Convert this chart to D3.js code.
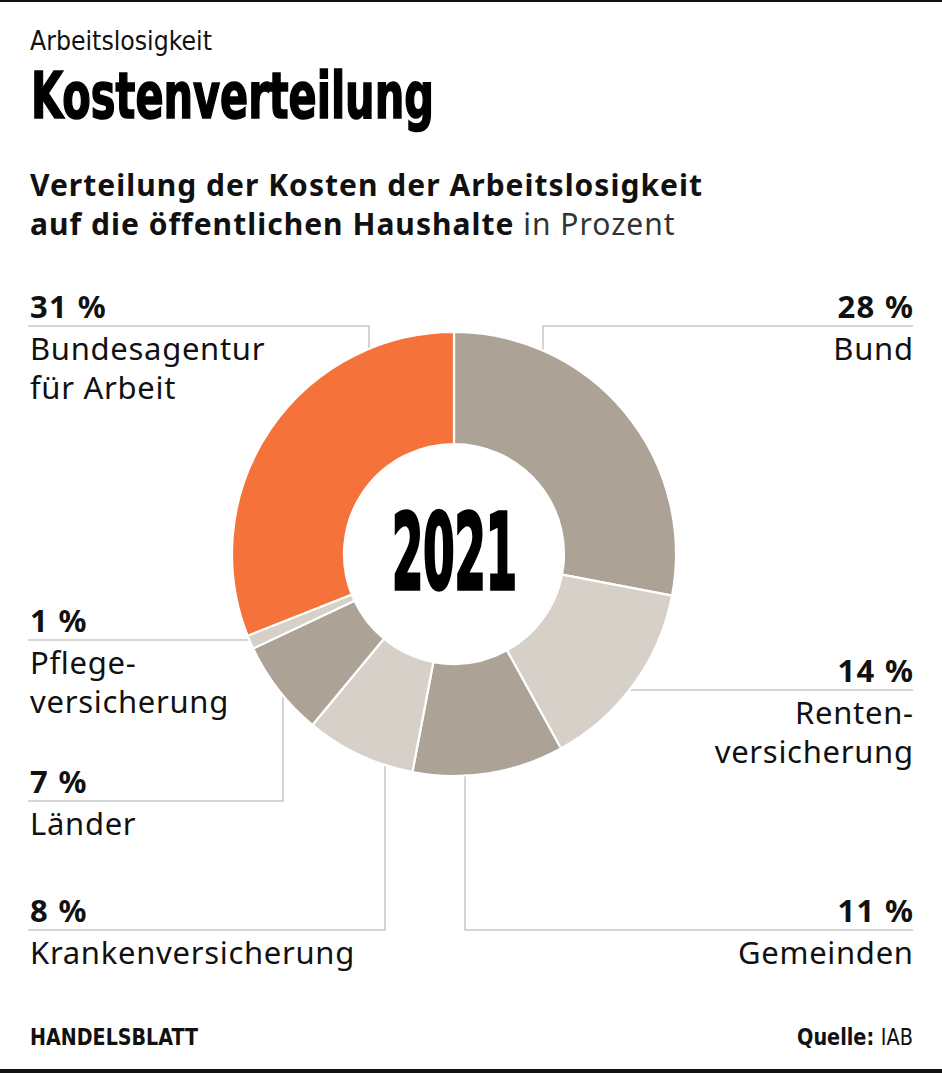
<!DOCTYPE html>
<html><head><meta charset="utf-8">
<script src="https://cdn.jsdelivr.net/npm/d3@7"></script>
<style>
html,body{margin:0;padding:0;background:#fff;}
svg{display:block;}
</style></head>
<body>
<svg id="c" width="942" height="1075"></svg>
<script>
// ---- data ----
const categories = ["Bund", "Rentenversicherung", "Gemeinden", "Krankenversicherung", "Länder", "Pflegeversicherung", "Bundesagentur für Arbeit"];
const values = [28, 14, 11, 8, 7, 1, 31];
const labelLines = [["Bund"], ["Renten-", "versicherung"], ["Gemeinden"], ["Krankenversicherung"], ["Länder"], ["Pflege-", "versicherung"], ["Bundesagentur", "für Arbeit"]];
const year = "2021";

// ---- layout (annotation placement) ----
const palette = ["#ada296", "#d6d0c9", "#ada296", "#d6d0c9", "#ada296", "#d6d0c9", "#f5733a"];
const leaders = [
  {side: "right", y: 326, x: 543},
  {side: "right", y: 690, x: null},
  {side: "right", y: 930, x: 465},
  {side: "left",  y: 930, x: 385},
  {side: "left",  y: 801, x: 283},
  {side: "left",  y: 640, x: null},
  {side: "left",  y: 326, x: 369}
];

const W = 942, H = 1075;
const cx = 454, cy = 554, R = 222, r = 110;
const leftX = 30, rightX = 913;
const svg = d3.select("#c");
const sans = "'Noto Sans', Roboto, sans-serif";
const narrow = "'Liberation Sans Narrow', 'DejaVu Sans Condensed', 'Liberation Sans', sans-serif";

function spacingFor(str, font, weight, size, target) {
  const t = svg.append("text").attr("font-family", font).attr("font-weight", weight).attr("font-size", size).text(str);
  const w = t.node().getComputedTextLength();
  t.remove();
  return (target - w) / str.length;
}

// borders
svg.append("rect").attr("x",0).attr("y",0).attr("width",W).attr("height",2).attr("fill","#111");
svg.append("rect").attr("x",0).attr("y",1069).attr("width",W).attr("height",4).attr("fill","#111");

// header
const kicker = svg.append("text").attr("font-family", narrow).attr("font-size", 26).attr("fill","#111").text("Arbeitslosigkeit");
{ const w = kicker.node().getComputedTextLength(); const s = 182 / w;
  kicker.attr("transform", `translate(${leftX},50) scale(${s},1)`); }

const title = svg.append("text").attr("font-family", narrow).attr("font-weight", 700).attr("font-size", 64)
  .attr("fill","#000").attr("stroke","#000").attr("stroke-width",1.6).text("Kostenverteilung");
{ const w = title.node().getComputedTextLength(); const s = 403 / w;
  title.attr("transform", `translate(${leftX+1},118) scale(${s},1)`); }

const subSize = 30;
const ls1 = spacingFor("Verteilung der Kosten der Arbeitslosigkeit", sans, 700, subSize, 673);
svg.append("text").attr("x", leftX).attr("y", 196).attr("font-family", sans).attr("font-weight", 700).attr("font-size", subSize)
  .attr("letter-spacing", ls1).attr("fill","#111")
  .text("Verteilung der Kosten der Arbeitslosigkeit");
const st2 = svg.append("text").attr("x", leftX).attr("y", 235).attr("font-family", sans).attr("font-size", subSize)
  .attr("letter-spacing", ls1).attr("fill","#111");
st2.append("tspan").attr("font-weight", 700).text("auf die öffentlichen Haushalte");
st2.append("tspan").attr("font-weight", 400).attr("fill","#333").text(" in Prozent");

// leaders
const gLead = svg.append("g").attr("stroke", "#c8c8c8").attr("stroke-width", 1.5).attr("fill", "none");
leaders.forEach(l => {
  const x0 = l.side === "left" ? leftX - 2 : rightX;
  let pts;
  if (l.x === null) {
    const dy = l.y - cy;
    const dx = Math.sqrt(R*R - dy*dy);
    const xe = l.side === "left" ? cx - dx : cx + dx;
    pts = [[x0, l.y], [xe, l.y]];
  } else {
    const dx = l.x - cx;
    const dy = Math.sqrt(R*R - dx*dx);
    const ye = l.y < cy ? cy - dy : cy + dy;
    pts = [[x0, l.y], [l.x, l.y], [l.x, ye]];
  }
  gLead.append("path").attr("d", d3.line()(pts));
});

// donut
const pie = d3.pie().sort(null).value(d => d)(values);
const arc = d3.arc().innerRadius(r).outerRadius(R);
const g = svg.append("g").attr("transform", `translate(${cx},${cy})`);
g.selectAll("path").data(pie).join("path")
  .attr("d", arc)
  .attr("fill", (d,i) => palette[i])
  .attr("stroke", "#fff").attr("stroke-width", 2.2).attr("stroke-linejoin","round");

// center year
const yr = g.append("text").attr("font-family", narrow).attr("font-weight", 700).attr("font-size", 100)
  .attr("fill","#000").attr("stroke","#000").attr("stroke-width",3.5).attr("stroke-linejoin","miter").text(year);
{ const w = yr.node().getComputedTextLength();
  const sx = 125 / w; const capH = 100 * 0.73; const sy = 77 / capH;
  yr.attr("transform", `translate(${-125/2 + 0.5},${35}) scale(${sx},${sy})`); }

// labels
const pctSize = 31, nameSize = 31;
const lsPct = spacingFor("31 %", sans, 700, pctSize, 77);
const lsName = spacingFor("Krankenversicherung", sans, 400, nameSize, 325);
leaders.forEach((l, i) => {
  const left = l.side === "left";
  const x = left ? leftX : rightX;
  const anchor = left ? "start" : "end";
  const t = svg.append("g").attr("text-anchor", anchor).attr("fill", "#111");
  t.append("text").attr("x", x + (left ? 0 : lsPct)).attr("y", l.y - 8).attr("font-family", sans).attr("font-weight", 700).attr("font-size", pctSize)
    .attr("letter-spacing", lsPct).text(values[i] + " %");
  labelLines[i].forEach((line, k) => {
    t.append("text").attr("x", x + (left ? 0 : lsName)).attr("y", l.y + 34 + k * 39).attr("font-family", sans).attr("font-weight", 400).attr("font-size", nameSize)
      .attr("letter-spacing", lsName).text(line);
  });
});

// footer
const hb = svg.append("text").attr("font-family", narrow).attr("font-weight", 700).attr("font-size", 23).attr("fill","#111").text("HANDELSBLATT");
{ const w = hb.node().getComputedTextLength(); hb.attr("transform", `translate(${leftX},1045) scale(${168 / w},1)`); }
const src = svg.append("text").attr("font-family", narrow).attr("font-size", 23).attr("fill","#111");
src.append("tspan").attr("font-weight", 700).text("Quelle: ");
src.append("tspan").attr("font-weight", 400).text("IAB");
{ const w = src.node().getComputedTextLength(); const s = 116 / w;
  src.attr("transform", `translate(${rightX - 116},1045) scale(${s},1)`); }
</script>
</body></html>
